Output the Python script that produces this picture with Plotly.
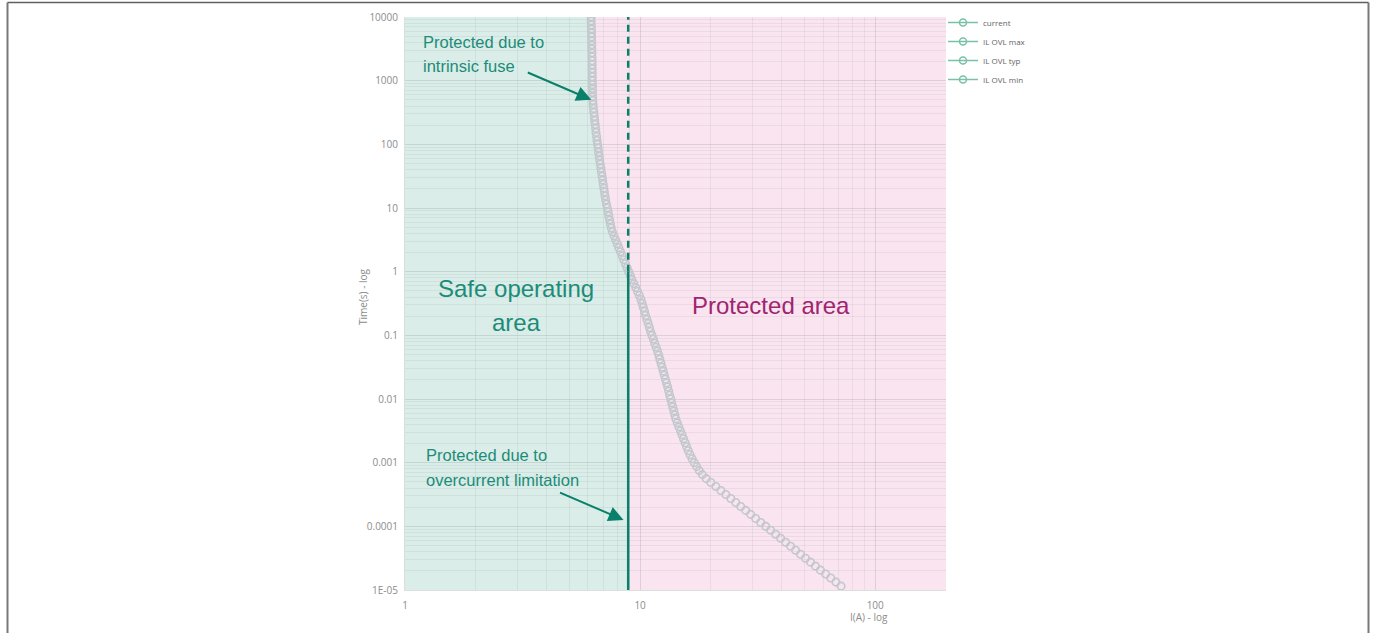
import math
import plotly.graph_objects as go

# Fuse characteristic: trip time (s) versus load current (A)
time_s = [
    1.0e4, 8.66e3, 7.50e3, 6.49e3, 5.62e3, 4.87e3, 4.22e3, 3.65e3, 3.16e3, 2.74e3, 2.37e3, 2.05e3, 1.78e3, 1.54e3, 1.33e3, 1.15e3,
    1.0e3, 8.66e2, 7.50e2, 6.49e2, 5.62e2, 4.87e2, 4.22e2, 3.65e2, 3.16e2, 2.74e2, 2.37e2, 2.05e2, 1.78e2, 1.54e2, 1.33e2, 1.15e2,
    1.0e2, 8.66e1, 7.50e1, 6.49e1, 5.62e1, 4.87e1, 4.22e1, 3.65e1, 3.16e1, 2.74e1, 2.37e1, 2.05e1, 1.78e1, 1.54e1, 1.33e1, 1.15e1,
    1.0e1, 8.66, 7.50, 6.49, 5.62, 4.87, 4.22, 3.65, 3.16, 2.74, 2.37, 2.05, 1.78, 1.54, 1.33, 1.15,
    1.0, 8.66e-1, 7.50e-1, 6.49e-1, 5.62e-1, 4.87e-1, 4.22e-1, 3.65e-1, 3.16e-1, 2.74e-1, 2.37e-1, 2.05e-1, 1.78e-1, 1.54e-1, 1.33e-1, 1.15e-1,
    1.0e-1, 8.66e-2, 7.50e-2, 6.49e-2, 5.62e-2, 4.87e-2, 4.22e-2, 3.65e-2, 3.16e-2, 2.74e-2, 2.37e-2, 2.05e-2, 1.78e-2, 1.54e-2, 1.33e-2, 1.15e-2,
    1.0e-2, 8.66e-3, 7.50e-3, 6.49e-3, 5.62e-3, 4.87e-3, 4.22e-3, 3.65e-3, 3.16e-3, 2.74e-3, 2.37e-3, 2.05e-3, 1.78e-3, 1.54e-3, 1.33e-3, 1.15e-3,
    1.0e-3, 8.66e-4, 7.50e-4, 6.49e-4, 5.62e-4, 4.87e-4, 4.22e-4, 3.65e-4, 3.16e-4, 2.74e-4, 2.37e-4, 2.05e-4, 1.78e-4, 1.54e-4, 1.33e-4, 1.15e-4,
    1.0e-4, 8.66e-5, 7.50e-5, 6.49e-5, 5.62e-5, 4.87e-5, 4.22e-5, 3.65e-5, 3.16e-5, 2.74e-5, 2.37e-5, 2.05e-5, 1.78e-5, 1.54e-5, 1.33e-5, 1.15e-5,
]
current_a = [
    6.19, 6.19, 6.20, 6.21, 6.21, 6.22, 6.22, 6.23, 6.23, 6.24, 6.24, 6.25, 6.25, 6.25, 6.26, 6.26,
    6.26, 6.27, 6.27, 6.27, 6.28, 6.29, 6.31, 6.33, 6.36, 6.39, 6.41, 6.44, 6.47, 6.49, 6.53, 6.56,
    6.59, 6.63, 6.66, 6.70, 6.73, 6.77, 6.81, 6.85, 6.89, 6.93, 6.97, 7.01, 7.05, 7.09, 7.14, 7.19,
    7.25, 7.31, 7.36, 7.42, 7.48, 7.54, 7.62, 7.74, 7.87, 7.99, 8.12, 8.25, 8.39, 8.52, 8.66, 8.80,
    8.94, 9.09, 9.23, 9.40, 9.58, 9.75, 9.93, 10.08, 10.20, 10.32, 10.44, 10.56, 10.69, 10.82, 10.95, 11.08,
    11.23, 11.39, 11.54, 11.70, 11.86, 12.01, 12.13, 12.27, 12.40, 12.54, 12.67, 12.81, 12.95, 13.10, 13.23, 13.36,
    13.50, 13.63, 13.77, 13.91, 14.05, 14.19, 14.39, 14.61, 14.84, 15.07, 15.30, 15.54, 15.78, 16.02, 16.31, 16.64,
    16.99, 17.40, 17.85, 18.40, 19.10, 20.00, 21.00, 22.05, 23.15, 24.31, 25.52, 26.79, 28.13, 29.54, 31.01, 32.57,
    34.20, 35.91, 37.70, 39.59, 41.57, 43.65, 45.83, 48.12, 50.52, 53.05, 55.69, 58.49, 61.52, 64.70, 68.05, 71.56,
]

limit_current_a = 8.9      # overcurrent limitation threshold
limit_time_s = 1.0         # the limit becomes a hard boundary below this time
current_range_a = [1, 200]
time_range_s = [1e-5, 1e4]

time_ticks = [1e4, 1e3, 1e2, 1e1, 1, 1e-1, 1e-2, 1e-3, 1e-4, 1e-5]
time_tick_labels = ["10000", "1000", "100", "10", "1", "0.1", "0.01", "0.001", "0.0001", "1E-05"]
current_ticks = [1, 10, 100]
current_tick_labels = ["1", "10", "100"]
legend_names = ["current", "IL OVL max", "IL OVL typ", "IL OVL min"]

SAFE_GREEN = "rgb(218,237,232)"
PROTECT_PINK = "rgb(249,228,240)"
TEAL = "rgb(10,128,106)"
TEAL_TEXT = "rgb(28,140,120)"
MAGENTA = "rgb(160,36,112)"
LEGEND_GREEN = "rgb(122,192,168)"
GRID = "rgba(70,80,80,0.075)"
TICK_GREY = "rgb(140,140,140)"
TEXT_FONT = "Liberation Sans, Arial, sans-serif"
UI_FONT = "Open Sans, Noto Sans, sans-serif"

# Safe operating area: left of the fuse curve above the limit time, left of the limit below it
safe_pts = [(current_range_a[0], time_range_s[0]),
            (limit_current_a, time_range_s[0]),
            (limit_current_a, limit_time_s)]
on_curve = [(i, t) for i, t in zip(current_a, time_s) if i < limit_current_a and t >= limit_time_s]
safe_pts += sorted(on_curve, key=lambda p: p[1])
safe_pts += [(current_range_a[0], time_range_s[1])]
safe_path = "M " + " L ".join(f"{x:.6f},{y:.8f}" for x, y in safe_pts) + " Z"

fig = go.Figure()

# fuse curve
fig.add_trace(go.Scatter(
    x=current_a, y=time_s, mode="markers", name="current",
    showlegend=False, hoverinfo="x+y",
    marker=dict(symbol="circle-open", size=7.5, color="rgb(194,200,205)", line=dict(width=1.6)),
))

# overcurrent limit: solid below the limit time, dashed above
fig.add_trace(go.Scatter(
    x=[limit_current_a, limit_current_a], y=[time_range_s[0], limit_time_s], mode="lines",
    line=dict(color=TEAL, width=2.5), showlegend=False, hoverinfo="skip",
))
fig.add_trace(go.Scatter(
    x=[limit_current_a, limit_current_a], y=[limit_time_s, time_range_s[1]], mode="lines",
    line=dict(color=TEAL, width=2.5, dash="7px,5px"), showlegend=False, hoverinfo="skip",
))

# legend entries
for name in legend_names:
    fig.add_trace(go.Scatter(
        x=[None], y=[None], mode="lines+markers", name=name,
        line=dict(color=LEGEND_GREEN, width=1.5),
        marker=dict(symbol="circle-open", size=7, color=LEGEND_GREEN, line=dict(width=1.5)),
    ))

axis_common = dict(
    type="log", showgrid=True, gridcolor=GRID, gridwidth=1, zeroline=False,
    tickmode="array", ticks="", tickfont=dict(family=UI_FONT, size=10, color=TICK_GREY),
    showline=True, linecolor="rgba(90,110,105,0.22)", linewidth=1,
    minor=dict(dtick="D1", showgrid=True, gridcolor=GRID, gridwidth=1),
)

fig.update_xaxes(
    **axis_common,
    range=[math.log10(current_range_a[0]), math.log10(current_range_a[1])],
    tickvals=current_ticks, ticktext=current_tick_labels, ticklabelstandoff=6,
)
fig.update_yaxes(
    **axis_common,
    range=[math.log10(time_range_s[0]), math.log10(time_range_s[1])],
    tickvals=time_ticks, ticktext=time_tick_labels, ticklabelstandoff=4,
)

W, H = 1373, 633
L, R, T, B = 405, 427, 17, 43
pw, ph = W - L - R, H - T - B


def px(x):
    return (x - L) / pw


def py(y):
    return (H - B - y) / ph


shapes = [
    dict(type="path", path=safe_path, xref="x", yref="y", fillcolor=SAFE_GREEN,
         line=dict(width=0), layer="below"),
    # page frame
    dict(type="line", xref="paper", yref="paper", x0=px(7.5), x1=px(1368.5), y0=py(2.5), y1=py(2.5),
         line=dict(color="rgb(95,95,95)", width=1.5)),
    dict(type="line", xref="paper", yref="paper", x0=px(7.5), x1=px(7.5), y0=py(2.5), y1=py(700),
         line=dict(color="rgb(120,120,120)", width=2)),
    dict(type="line", xref="paper", yref="paper", x0=px(1368.5), x1=px(1368.5), y0=py(2.5), y1=py(700),
         line=dict(color="rgb(120,120,120)", width=2)),
]


def label(text, x, y, size, color, xanchor="left", family=TEXT_FONT, angle=0):
    return dict(text=text, x=px(x), y=py(y), xref="paper", yref="paper", showarrow=False,
                xanchor=xanchor, yanchor="middle", textangle=angle,
                font=dict(family=family, size=size, color=color))


annotations = [
    label("Protected due to", 421, 42, 16.5, TEAL_TEXT),
    label("intrinsic fuse", 421, 66, 16.5, TEAL_TEXT),
    label("Safe operating", 516, 288, 24, TEAL_TEXT, xanchor="center"),
    label("area", 516, 322, 24, TEAL_TEXT, xanchor="center"),
    label("Protected area", 771, 305, 24, MAGENTA, xanchor="center"),
    label("Protected due to", 424, 455, 16.5, TEAL_TEXT),
    label("overcurrent limitation", 424, 480, 16.5, TEAL_TEXT),
    label("I(A) - log", 869, 617, 10, TICK_GREY, xanchor="center", family=UI_FONT),
    label("Time(s) - log", 363, 297, 10, TICK_GREY, xanchor="center", family=UI_FONT, angle=-90),
    # arrows pointing at the fuse curve and at the current limit
    dict(x=math.log10(6.2), y=math.log10(500), xref="x", yref="y", text="", showarrow=True,
         ax=-65, ay=-28, arrowhead=2, arrowsize=1.5, arrowwidth=2, arrowcolor=TEAL),
    dict(x=math.log10(8.5), y=math.log10(1.26e-4), xref="x", yref="y", text="", showarrow=True,
         ax=-65, ay=-28, arrowhead=2, arrowsize=1.5, arrowwidth=2, arrowcolor=TEAL),
]

fig.update_layout(
    width=W, height=H, autosize=False,
    margin=dict(l=L, r=R, t=T, b=B, autoexpand=False),
    paper_bgcolor="white", plot_bgcolor=PROTECT_PINK,
    shapes=shapes, annotations=annotations,
    showlegend=True,
    legend=dict(x=px(943), y=py(8), xanchor="left", yanchor="top", bgcolor="rgba(0,0,0,0)",
                tracegroupgap=0,
                font=dict(family=UI_FONT, size=8, color="rgb(100,100,100)")),
)

fig.write_html("out.html")
